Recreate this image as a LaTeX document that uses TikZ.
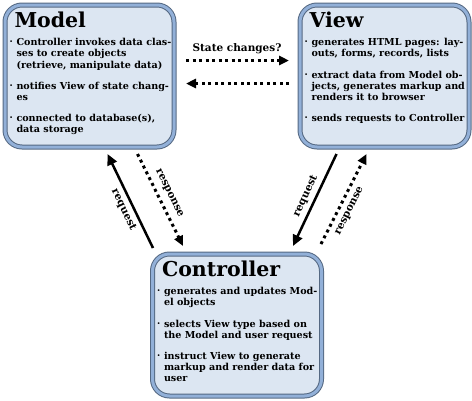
\documentclass[tikz,border=0pt]{standalone}
\usepackage{fontspec}
\setmainfont{DejaVu Serif}
\usetikzlibrary{positioning,arrows.meta,calc}
\definecolor{boxfill}{RGB}{220,230,242}
\definecolor{boxedge}{RGB}{84,104,130}
\definecolor{boxrim}{RGB}{146,176,216}
\newcommand{\boxtitle}[1]{{\fontsize{20.5}{20}\selectfont\hspace*{5pt}#1\par}\vspace{7pt}}
\newcommand{\pitem}[1]{\noindent\makebox[7pt][l]{\raisebox{2pt}{\fontsize{5}{5}\selectfont\textbullet}}%
  \begin{tabular}[t]{@{}l@{}}#1\end{tabular}\par\vspace{9pt}}
\newcommand{\boxbody}[1]{\parbox[t][128pt][t]{160pt}{\raggedright #1}}

\begin{document}
\begin{tikzpicture}[x=1pt,y=1pt,font=\bfseries\fontsize{9.6}{11.2}\selectfont,
  mvc/.style={draw=boxedge,double=boxrim,double distance=3pt,line width=1pt,fill=boxfill,
    rounded corners=17pt,inner xsep=4.5pt,inner ysep=7pt},
  req/.style={-{Triangle[length=11pt,width=10pt]},line width=2.5pt},
  resp/.style={-{Triangle[length=10pt,width=9pt]},line width=3pt,dash pattern=on 3pt off 3.5pt},
  lbl/.style={font=\bfseries\fontsize{10.5}{10.5}\selectfont,inner sep=4pt},
]
\useasboundingbox (0,0) rectangle (472,-400);
\node[mvc,anchor=north west] (model) at (4.5,-4.5) {\boxbody{\boxtitle{Model}
  \pitem{Controller invokes data clas-\\ses to create objects\\(retrieve, manipulate data)}
  \pitem{notifies View of state chang-\\es}
  \pitem{connected to database(s),\\data storage}}};
\node[mvc,right=125pt of model] (view) {\boxbody{\boxtitle{View}
  \pitem{generates HTML pages: lay-\\outs, forms, records, lists}
  \pitem{extract data from Model ob-\\jects, generates markup and\\renders it to browser}
  \pitem{sends requests to Controller}}};
\coordinate (mid) at ($(model.south)!.5!(view.south)$);
\node[mvc,below=106pt of mid] (ctrl) {\boxbody{\boxtitle{Controller}
  \pitem{generates and updates Mod-\\el objects}
  \pitem{selects View type based on\\the Model and user request}
  \pitem{instruct View to generate\\markup and render data for\\user}}};
% model <-> view
\draw[resp,shorten <=11.5pt,shorten >=10.5pt] ([yshift=15.5pt]model.east) -- node[lbl,above=1pt]{State changes?} ([yshift=15.5pt]view.west);
\draw[resp,shorten <=10.5pt,shorten >=11.5pt] ([yshift=-7.5pt]view.west) -- ([yshift=-7.5pt]model.east);
% controller <-> model
\draw[req] ([shift={(-84,5.5)}]ctrl.north) -- node[lbl,pos=.45,rotate=-64.4,anchor=north]{request} ([shift={(18,-6.5)}]model.south);
\draw[resp] ([shift={(48,-6.5)}]model.south) -- node[lbl,pos=.48,rotate=-63.9,anchor=south,inner sep=5.5pt]{response} ([shift={(-54,7.5)}]ctrl.north);
% controller <-> view
\draw[req] ([shift={(-48,-6.5)}]view.south) -- node[lbl,pos=.5,rotate=65,anchor=south]{request} ([shift={(56,7.5)}]ctrl.north);
\draw[resp] ([shift={(84,9.5)}]ctrl.north) -- node[lbl,pos=.42,rotate=63.4,anchor=north,inner sep=5.5pt]{response} ([shift={(-18,-6.5)}]view.south);
\end{tikzpicture}
\end{document}
